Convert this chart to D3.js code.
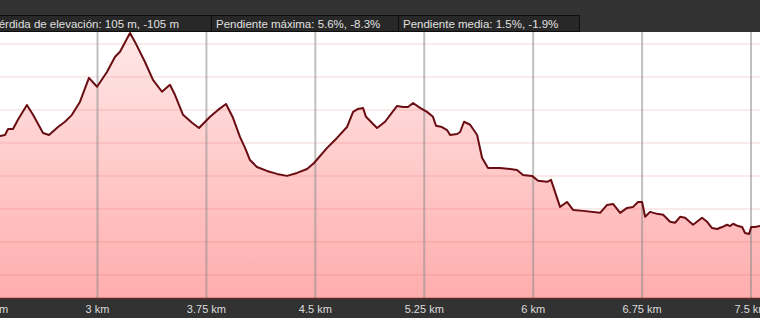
<!DOCTYPE html>
<html>
<head>
<meta charset="utf-8">
<script src="https://cdn.jsdelivr.net/npm/d3@7"></script>
<style>
  body { margin: 0; background: #333; }
  svg { display: block; }
  text { font-family: Arial, "Liberation Sans", sans-serif; }
</style>
</head>
<body>
<div id="chart"></div>
<script>
// Distance along the track (km)
const distanceKm = [
  2.31, 2.329, 2.363, 2.384, 2.418, 2.452, 2.514, 2.556, 2.625, 2.666, 2.728, 2.776, 2.824, 2.879,
  2.941, 2.997, 3.065, 3.121, 3.155, 3.224, 3.258, 3.327, 3.382, 3.444, 3.499, 3.534,
  3.589, 3.651, 3.699, 3.775, 3.830, 3.885, 3.933, 3.981, 4.016, 4.050, 4.098, 4.167,
  4.236, 4.305, 4.374, 4.443, 4.491, 4.581, 4.649, 4.718, 4.760, 4.794, 4.828, 4.849,
  4.925, 4.980, 5.063, 5.104, 5.138, 5.173, 5.221, 5.269, 5.310, 5.331, 5.372, 5.407,
  5.428, 5.476, 5.497, 5.524, 5.566, 5.614, 5.648, 5.689, 5.772, 5.841, 5.889, 5.930,
  5.992, 6.034, 6.096, 6.123, 6.185, 6.233, 6.275, 6.344, 6.461, 6.509, 6.550, 6.599,
  6.647, 6.688, 6.722, 6.750, 6.771, 6.805, 6.853, 6.895, 6.943, 6.977, 7.012, 7.046,
  7.101, 7.163, 7.198, 7.232, 7.267, 7.301, 7.335, 7.356, 7.377, 7.411, 7.439, 7.459,
  7.487, 7.501, 7.528, 7.562, 7.58
];

// Elevation (m)
const elevationM = [
  871.8, 872.1, 872.4, 874.2, 874.2, 877.0, 881.5, 878.5, 873.0, 872.4, 874.8, 876.4, 878.5, 882.4,
  889.7, 887.0, 891.5, 896.1, 897.6, 903.3, 900.6, 894.5, 889.1, 885.5, 887.6, 884.5,
  878.5, 876.1, 874.5, 877.9, 880.0, 881.8, 877.6, 871.8, 868.5, 864.8, 862.7, 861.5,
  860.6, 860.0, 860.9, 862.1, 863.9, 868.5, 871.5, 874.8, 879.4, 880.3, 880.6, 877.9,
  874.5, 876.4, 881.2, 880.9, 880.9, 882.1, 880.6, 879.4, 877.9, 875.2, 874.8, 873.9,
  872.4, 872.7, 873.3, 876.4, 875.5, 872.4, 865.5, 862.4, 862.4, 862.1, 861.8, 860.3,
  860.0, 858.5, 858.2, 858.8, 850.6, 852.1, 849.7, 849.4, 848.8, 851.2, 851.5, 848.8,
  850.3, 850.6, 852.1, 852.1, 847.6, 849.1, 848.5, 848.2, 846.1, 845.8, 847.6, 847.3,
  845.2, 847.3, 846.1, 844.2, 843.9, 844.5, 845.2, 844.8, 845.5, 844.8, 844.5, 842.7,
  842.4, 844.5, 844.5, 844.8, 844.8
];

// Axis ticks
const xTicks = [2.25, 3, 3.75, 4.5, 5.25, 6, 6.75, 7.5];
const yGrid = [830, 840, 850, 860, 870, 880, 890, 900];

// Summary boxes in the header
const infoTexts = [
  "Pérdida de elevación: 105 m, -105 m",
  "Pendiente máxima: 5.6%, -8.3%",
  "Pendiente media: 1.5%, -1.9%"
];

const width = 760;
const height = 318;
const plotTop = 32;
const plotBottom = 298;

const data = distanceKm.map((d, i) => ({ d: d, e: elevationM[i] }));

const x = d3.scaleLinear().domain([3, 7.5]).range([97.5, 751]);
const y = d3.scaleLinear().domain([823, 903.6]).range([plotBottom, plotTop]);

const svg = d3.select("#chart")
  .append("svg")
  .attr("width", width)
  .attr("height", height);

// Background bands
svg.append("rect").attr("width", width).attr("height", height).attr("fill", "#323232");
svg.append("rect")
  .attr("x", 0).attr("y", plotTop)
  .attr("width", width).attr("height", plotBottom - plotTop)
  .attr("fill", "#ffffff");

// Fill gradient
const grad = svg.append("defs").append("linearGradient")
  .attr("id", "fillGrad")
  .attr("gradientUnits", "userSpaceOnUse")
  .attr("x1", 0).attr("y1", plotTop)
  .attr("x2", 0).attr("y2", plotBottom);
grad.append("stop").attr("offset", "0%").attr("stop-color", "#ffe8e8");
grad.append("stop").attr("offset", "100%").attr("stop-color", "#ffadad");

const area = d3.area()
  .x(d => x(d.d))
  .y0(plotBottom)
  .y1(d => y(d.e));

const line = d3.line()
  .x(d => x(d.d))
  .y(d => y(d.e));

svg.append("path")
  .datum(data)
  .attr("d", area)
  .attr("fill", "url(#fillGrad)");

// Grid lines over the fill
svg.append("g")
  .selectAll("line")
  .data(yGrid)
  .enter()
  .append("line")
  .attr("x1", 0).attr("x2", width)
  .attr("y1", d => y(d)).attr("y2", d => y(d))
  .attr("stroke", "rgba(225,90,90,0.13)")
  .attr("stroke-width", 2);

svg.append("g")
  .selectAll("line")
  .data(xTicks)
  .enter()
  .append("line")
  .attr("x1", d => x(d)).attr("x2", d => x(d))
  .attr("y1", plotTop).attr("y2", plotBottom)
  .attr("stroke", "rgba(140,140,140,0.55)")
  .attr("stroke-width", 2);

svg.append("path")
  .datum(data)
  .attr("d", line)
  .attr("fill", "none")
  .attr("stroke", "#6a0d12")
  .attr("stroke-width", 2)
  .attr("stroke-linejoin", "round");

// Bottom edge of the plot
svg.append("line")
  .attr("x1", 0).attr("x2", width)
  .attr("y1", plotBottom + 0.5).attr("y2", plotBottom + 0.5)
  .attr("stroke", "#5a2a2a")
  .attr("stroke-width", 1.5);

// X axis labels
svg.append("g")
  .selectAll("text")
  .data(xTicks)
  .enter()
  .append("text")
  .attr("x", d => x(d))
  .attr("y", 313)
  .attr("text-anchor", "middle")
  .attr("fill", "#dcdcdc")
  .attr("font-size", "11px")
  .text(d => d + " km");

// Header boxes
const boxes = [
  { x0: -60, x1: 211, tx: 179, anchor: "end" },
  { x0: 211, x1: 398, tx: 216, anchor: "start" },
  { x0: 398, x1: 579, tx: 403, anchor: "start" }
];

const header = svg.append("g");
header.selectAll("rect")
  .data(boxes)
  .enter()
  .append("rect")
  .attr("x", d => d.x0 + 0.5)
  .attr("y", 15.5)
  .attr("width", d => d.x1 - d.x0)
  .attr("height", 16)
  .attr("fill", "#282828")
  .attr("stroke", "#0e0e0e")
  .attr("stroke-width", 1);

header.selectAll("text")
  .data(boxes)
  .enter()
  .append("text")
  .attr("x", d => d.tx)
  .attr("y", 28)
  .attr("text-anchor", d => d.anchor)
  .attr("fill", "#e0e0e0")
  .attr("font-size", "11.5px")
  .text((d, i) => infoTexts[i]);
</script>
</body>
</html>
